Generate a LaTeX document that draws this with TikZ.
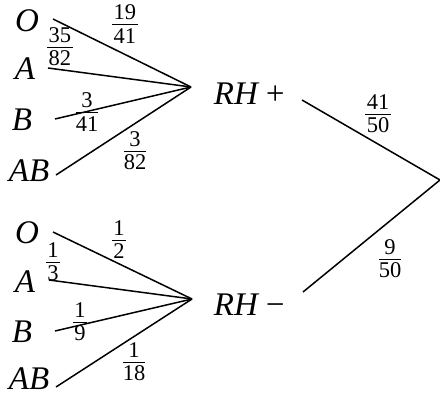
\documentclass[tikz,border=0pt]{standalone}
\usepackage{fontspec}
\setmainfont{Liberation Serif}
\newcommand\myfrac[2]{\vbox{\offinterlineskip\halign{\hfil##\hfil\cr\kern1.5pt#1\kern1.5pt\cr\noalign{\kern4pt\hrule height 1.1pt\kern3pt}#2\cr}}}
\begin{document}
\begin{tikzpicture}[x=1pt,y=-1pt,
  lab/.style={inner sep=0pt,font=\fontsize{33}{36}\selectfont\itshape},
  fr/.style={inner sep=0pt,font=\fontsize{22.5}{26}\selectfont},
  br/.style={line width=1.5pt}]
\useasboundingbox[fill=white] (0,0) rectangle (440,399);
% top group labels
\node[lab] (tO)  at (27,21)  {O};
\node[lab] (tA)  at (25,69)  {A};
\node[lab] (tB)  at (22,120) {B};
\node[lab] (tAB) at (29,171) {AB};
% bottom group labels
\node[lab] (bO)  at (27,233) {O};
\node[lab] (bA)  at (25,282) {A};
\node[lab] (bB)  at (22,332) {B};
\node[lab] (bAB) at (29,379) {AB};
% RH nodes
\node[lab] (rp) at (250,94)  {RH\kern6pt+};
\node[lab] (rm) at (250,305) {RH\kern6pt−};
% coordinates
\coordinate (tJ) at (191,87);
\coordinate (bJ) at (192,299);
\coordinate (R)  at (440,180);
\coordinate (tO1) at (53,19);
\coordinate (tA1) at (48,68);
\coordinate (tB1) at (55,119);
\coordinate (tAB1) at (56,175);
\coordinate (bO1) at (53,232);
\coordinate (bA1) at (49,280);
\coordinate (bB1) at (55,331);
\coordinate (bAB1) at (56,387);
\coordinate (rp1) at (302,100);
\coordinate (rm1) at (303,292);
% branches
\draw[br] (tO1) -- (tJ);
\draw[br] (tA1) -- (tJ);
\draw[br] (tB1) -- (tJ);
\draw[br] (tAB1) -- (tJ);
\draw[br] (bO1) -- (bJ);
\draw[br] (bA1) -- (bJ);
\draw[br] (bB1) -- (bJ);
\draw[br] (bAB1) -- (bJ);
\draw[br] (rp1) -- (R);
\draw[br] (rm1) -- (R);
% fractions
\node[fr] (f1) at (125,24)  {\myfrac{19}{41}};
\node[fr] (f2) at (60,47)   {\myfrac{35}{82}};
\node[fr] (f3) at (87,112)  {\myfrac{3}{41}};
\node[fr] (f4) at (135,151) {\myfrac{3}{82}};
\node[fr] (g1) at (119,240) {\myfrac{1}{2}};
\node[fr] (g2) at (53,262)  {\myfrac{1}{3}};
\node[fr] (g3) at (80,322)  {\myfrac{1}{9}};
\node[fr] (g4) at (134,362) {\myfrac{1}{18}};
\node[fr] (h1) at (378,114) {\myfrac{41}{50}};
\node[fr] (h2) at (390,259) {\myfrac{9}{50}};
\end{tikzpicture}
\end{document}
